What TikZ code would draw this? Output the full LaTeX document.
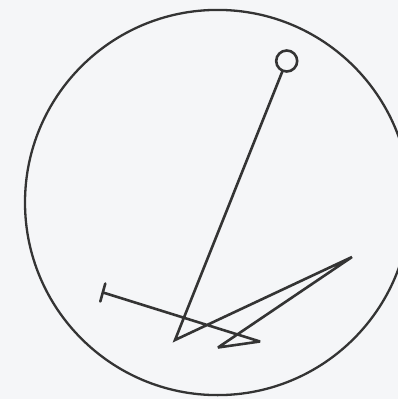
\documentclass[tikz,border=0pt]{standalone}
\definecolor{paper}{HTML}{F5F6F8}
\definecolor{ink}{HTML}{343434}
\tikzset{inkline/.style={draw=ink,line width=2.6pt,line join=miter,miter limit=3,line cap=round},
 bigring/.style={draw=ink,line width=2.3pt}}
\begin{document}
\begin{tikzpicture}[x=1pt,y=-1pt]
\useasboundingbox (0,0) rectangle (398,399);
\clip (0,0) rectangle (398,399);
\fill[paper] (0,0) rectangle (398,399);
\node[circle,bigring,minimum size=385.2pt,inner sep=0pt] (ring) at (217.6,202.5) {};
\node[circle,inkline,minimum size=21pt,inner sep=0pt] (knob) at (286.7,61) {};
\coordinate (s) at (282.5,71);
\coordinate (a) at (175,340);
\coordinate (b) at (352,257);
\coordinate (c) at (218,347.5);
\coordinate (d) at (260,341.5);
\coordinate (e) at (103,292.5);
\coordinate (t1) at (105.3,283.5);
\coordinate (t2) at (100.3,301.5);
\draw[inkline] (s) -- (a) -- (b) -- (c) -- (d) -- (e);
\draw[inkline] (t1) -- (t2);
\end{tikzpicture}
\end{document}
